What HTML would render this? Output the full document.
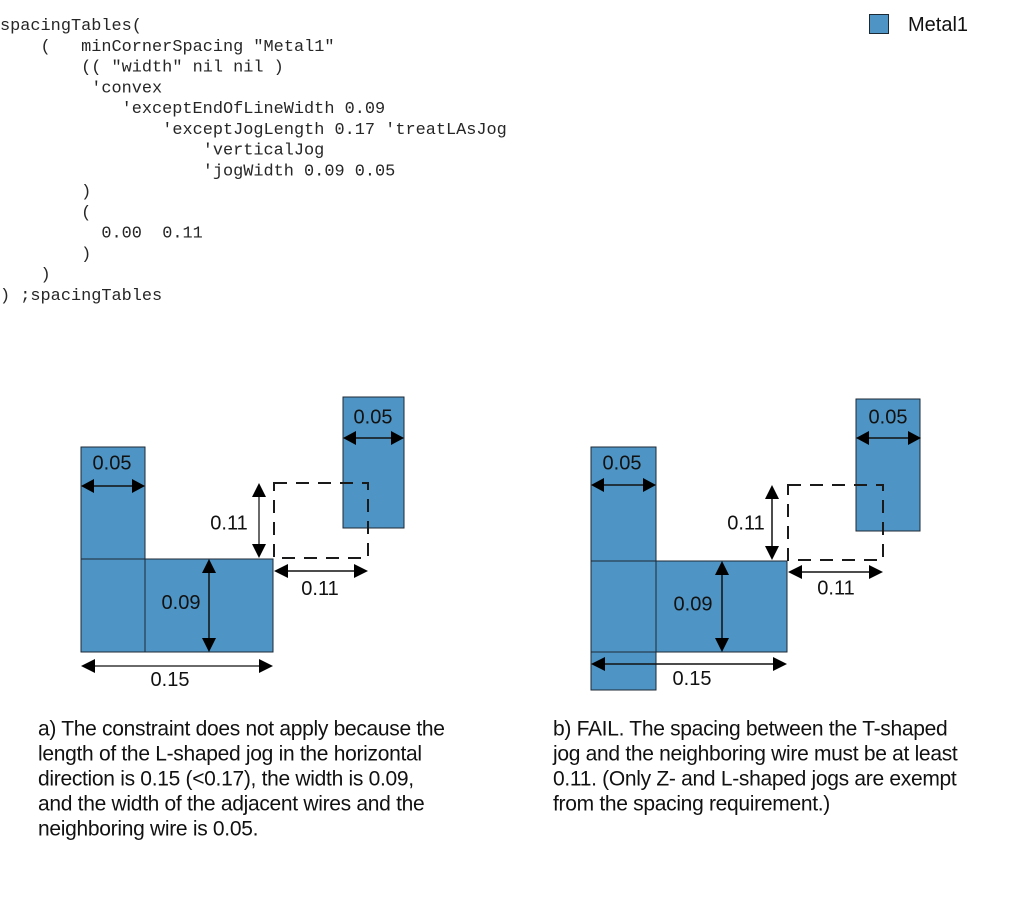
<!DOCTYPE html>
<html>
<head>
<meta charset="utf-8">
<style>
  html, body { margin: 0; padding: 0; background: #fff; }
  body { width: 1013px; height: 912px; overflow: hidden; position: relative; }
  svg { position: absolute; left: 0; top: 0; }
  .code { font-family: "Liberation Mono", "Courier New", monospace; font-size: 16.9px; fill: #262626; white-space: pre; }
  .lbl { font-family: "Liberation Sans", Arial, sans-serif; font-size: 20px; fill: #111; text-anchor: middle; }
  .cap { font-family: "Liberation Sans", Arial, sans-serif; font-size: 21px; fill: #111; letter-spacing: -0.3px; }
  .leg { font-family: "Liberation Sans", Arial, sans-serif; font-size: 20px; fill: #111; }
  .m { fill: #4e94c4; stroke: #1c2a36; stroke-width: 1; }
  .dash { fill: none; stroke: #1a1a1a; stroke-width: 2; stroke-dasharray: 13 9; }
  .ln { stroke: #111; stroke-width: 1.5; }
  .lg { stroke: #6a6a6a; stroke-width: 2; }
  .hd { fill: #000; }
</style>
</head>
<body>
<svg width="1013" height="912" viewBox="0 0 1013 912" xmlns="http://www.w3.org/2000/svg">
  <!-- Code -->
  <text class="code" x="0" y="30">spacingTables(</text>
  <text class="code" x="40.5" y="50.8">(</text>
  <text class="code" x="81.1" y="50.8">minCornerSpacing "Metal1"</text>
  <text class="code" x="81.1" y="71.5">(( "width" nil nil )</text>
  <text class="code" x="91.2" y="92.3">'convex</text>
  <text class="code" x="121.6" y="113.1">'exceptEndOfLineWidth 0.09</text>
  <text class="code" x="162.2" y="133.8">'exceptJogLength 0.17 'treatLAsJog</text>
  <text class="code" x="202.7" y="154.6">'verticalJog</text>
  <text class="code" x="202.7" y="175.4">'jogWidth 0.09 0.05</text>
  <text class="code" x="81.1" y="196.2">)</text>
  <text class="code" x="81.1" y="216.9">(</text>
  <text class="code" x="101.4" y="237.7">0.00  0.11</text>
  <text class="code" x="81.1" y="258.5">)</text>
  <text class="code" x="40.5" y="279.2">)</text>
  <text class="code" x="0" y="300">) ;spacingTables</text>

  <!-- Legend -->
  <rect class="m" x="869.5" y="14.5" width="19" height="19"/>
  <text class="leg" x="908" y="31">Metal1</text>

  <!-- ===== Diagram A ===== -->
  <rect class="m" x="81" y="447" width="64" height="112"/>
  <rect class="m" x="81" y="559" width="64" height="93"/>
  <rect class="m" x="145" y="559" width="128" height="93"/>
  <rect class="m" x="343" y="397" width="61" height="131"/>
  <rect class="dash" x="274" y="483" width="94" height="75"/>

  <!-- 0.05 left -->
  <line class="ln" x1="92" y1="486" x2="134" y2="486"/>
  <polygon class="hd" points="81,486 94,479 94,493"/>
  <polygon class="hd" points="145,486 132,479 132,493"/>
  <text class="lbl" x="112" y="469.5">0.05</text>
  <!-- 0.05 right -->
  <line class="ln" x1="354" y1="438" x2="393" y2="438"/>
  <polygon class="hd" points="343,438 356,431 356,445"/>
  <polygon class="hd" points="404,438 391,431 391,445"/>
  <text class="lbl" x="373" y="423.5">0.05</text>
  <!-- 0.11 vertical -->
  <line class="lg" x1="259" y1="494" x2="259" y2="547"/>
  <polygon class="hd" points="259,483 252,497 266,497"/>
  <polygon class="hd" points="259,558 252,544 266,544"/>
  <text class="lbl" x="229" y="529.5">0.11</text>
  <!-- 0.11 horizontal -->
  <line class="ln" x1="284" y1="571" x2="358" y2="571"/>
  <polygon class="hd" points="274,571 288,564 288,578"/>
  <polygon class="hd" points="368,571 354,564 354,578"/>
  <text class="lbl" x="320" y="595">0.11</text>
  <!-- 0.09 -->
  <line class="ln" x1="209" y1="570" x2="209" y2="641"/>
  <polygon class="hd" points="209,559 202,573 216,573"/>
  <polygon class="hd" points="209,652 202,638 216,638"/>
  <text class="lbl" x="181" y="609">0.09</text>
  <!-- 0.15 -->
  <line class="lg" x1="92" y1="666" x2="262" y2="666"/>
  <polygon class="hd" points="81,666 95,659 95,673"/>
  <polygon class="hd" points="273,666 259,659 259,673"/>
  <text class="lbl" x="170" y="686">0.15</text>

  <!-- ===== Diagram B ===== -->
  <rect class="m" x="591" y="447" width="65" height="114"/>
  <rect class="m" x="591" y="561" width="65" height="91"/>
  <rect class="m" x="656" y="561" width="131" height="91"/>
  <rect class="m" x="591" y="652" width="65" height="38"/>
  <rect class="m" x="856" y="399" width="64" height="132"/>
  <rect class="dash" x="788" y="485" width="95" height="75"/>

  <!-- 0.05 left -->
  <line class="ln" x1="602" y1="485" x2="645" y2="485"/>
  <polygon class="hd" points="591,485 604,478 604,492"/>
  <polygon class="hd" points="656,485 643,478 643,492"/>
  <text class="lbl" x="622" y="469.5">0.05</text>
  <!-- 0.05 right -->
  <line class="ln" x1="867" y1="438" x2="910" y2="438"/>
  <polygon class="hd" points="856,438 869,431 869,445"/>
  <polygon class="hd" points="921,438 908,431 908,445"/>
  <text class="lbl" x="888" y="423.5">0.05</text>
  <!-- 0.11 vertical -->
  <line class="ln" x1="772" y1="496" x2="772" y2="549"/>
  <polygon class="hd" points="772,485 765,499 779,499"/>
  <polygon class="hd" points="772,560 765,546 779,546"/>
  <text class="lbl" x="746" y="529.5">0.11</text>
  <!-- 0.11 horizontal -->
  <line class="ln" x1="798" y1="572" x2="873" y2="572"/>
  <polygon class="hd" points="788,572 802,565 802,579"/>
  <polygon class="hd" points="883,572 869,565 869,579"/>
  <text class="lbl" x="836" y="594.5">0.11</text>
  <!-- 0.09 -->
  <line class="ln" x1="722" y1="572" x2="722" y2="641"/>
  <polygon class="hd" points="722,561 715,575 729,575"/>
  <polygon class="hd" points="722,652 715,638 729,638"/>
  <text class="lbl" x="693" y="610.5">0.09</text>
  <!-- 0.15 -->
  <line class="ln" x1="601" y1="664" x2="777" y2="664"/>
  <polygon class="hd" points="591,664 605,657 605,671"/>
  <polygon class="hd" points="787,664 773,657 773,671"/>
  <text class="lbl" x="692" y="685">0.15</text>

  <!-- Captions -->
  <text class="cap" x="38" y="735.5">a) The constraint does not apply because the</text>
  <text class="cap" x="38" y="760.5">length of the L-shaped jog in the horizontal</text>
  <text class="cap" x="38" y="785.5">direction is 0.15 (&lt;0.17), the width is 0.09,</text>
  <text class="cap" x="38" y="810.5">and the width of the adjacent wires and the</text>
  <text class="cap" x="38" y="835.5">neighboring wire is 0.05.</text>

  <text class="cap" x="553" y="735.5">b) FAIL. The spacing between the T-shaped</text>
  <text class="cap" x="553" y="760.5">jog and the neighboring wire must be at least</text>
  <text class="cap" x="553" y="785.5">0.11. (Only Z- and L-shaped jogs are exempt</text>
  <text class="cap" x="553" y="810.5">from the spacing requirement.)</text>
</svg>
</body>
</html>
